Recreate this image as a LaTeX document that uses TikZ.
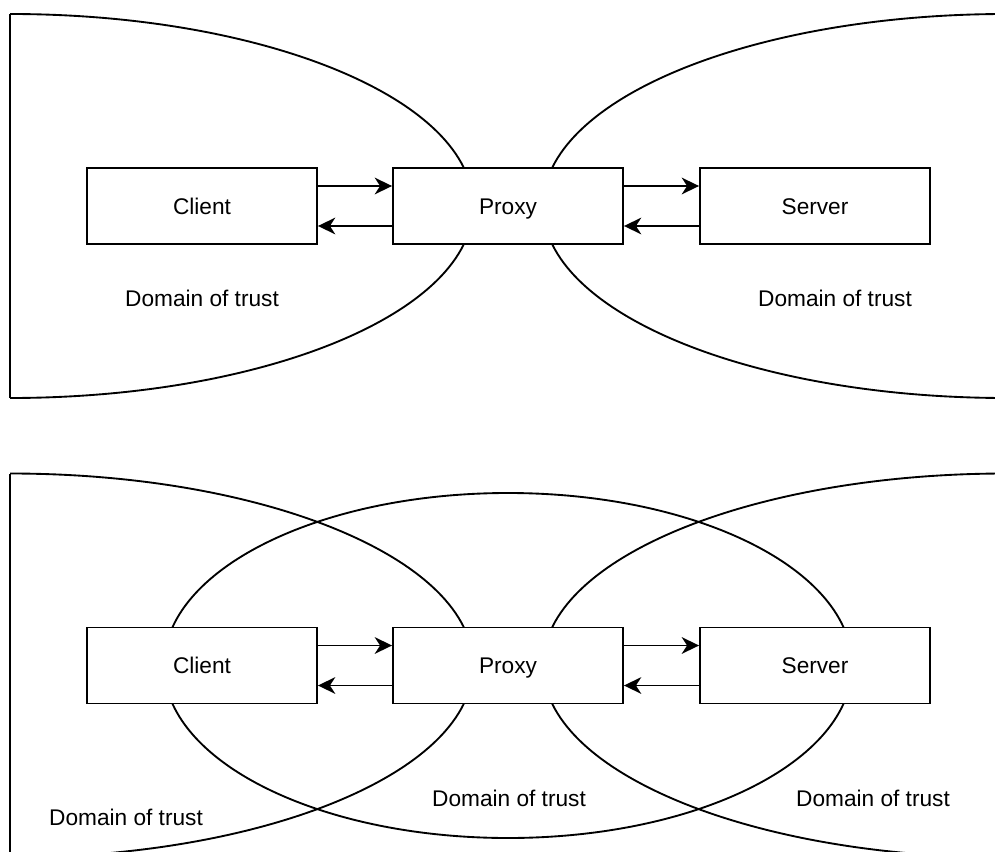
\documentclass[tikz,border=0pt]{standalone}
\usepackage{fontspec}
\setmainfont{Liberation Sans}
\usetikzlibrary{arrows.meta, positioning}

\tikzset{
  party/.style={draw, fill=white, line width=1.4pt, minimum width=172.5pt,
    minimum height=57pt, inner sep=0pt, text height=12.2pt, text depth=0pt,
    font=\fontsize{17}{20}\selectfont},
  flow/.style={line width=1.4pt, -{Stealth[length=13pt, width=12.5pt, inset=4pt]}},
  zone/.style={line width=1.4pt},
  trust/.style={font=\fontsize{17}{20}\selectfont},
}

\begin{document}
\begin{tikzpicture}[x=0.75pt, y=-0.75pt]
  \useasboundingbox (0,0) rectangle (995,852);
  \clip (0,0) rectangle (995,852);

  % shared domain round the proxy (lower panel only)
  \draw[zone] (508,665.5) ellipse [x radius=344, y radius=172.5];

  % both panels
  \foreach \cy/\pn in {206/a, 665.5/b} {
    % domains of trust
    \begin{scope}
      \clip (10,0) rectangle (995,852);
      \draw[zone] (10,\cy) ellipse [x radius=463, y radius=192];
    \end{scope}
    \draw[zone] (10,\cy-192) -- (10,\cy+192);
    \draw[zone] (1006,\cy) ellipse [x radius=463, y radius=192];

    % parties
    \node[party] (client\pn) at (202,\cy) {Client};
    \node[party] (proxy\pn) at (508,\cy) {Proxy};
    \node[party] (server\pn) at (815,\cy) {Server};

    \foreach \from/\to in {client/proxy, proxy/server} {
      \draw[flow] ([yshift=15pt]\from\pn.east) -- ([yshift=15pt]\to\pn.west);
      \draw[flow] ([yshift=-15pt]\to\pn.west) -- ([yshift=-15pt]\from\pn.east);
    }
  }

  % labels
  \node[trust] (trustLa) at (202,298) {Domain of trust};
  \node[trust] (trustRa) at (835,298) {Domain of trust};
  \node[trust] (trustLb) at (126,817) {Domain of trust};
  \node[trust] (trustMb) at (509,798) {Domain of trust};
  \node[trust] (trustRb) at (873,798) {Domain of trust};
\end{tikzpicture}
\end{document}
